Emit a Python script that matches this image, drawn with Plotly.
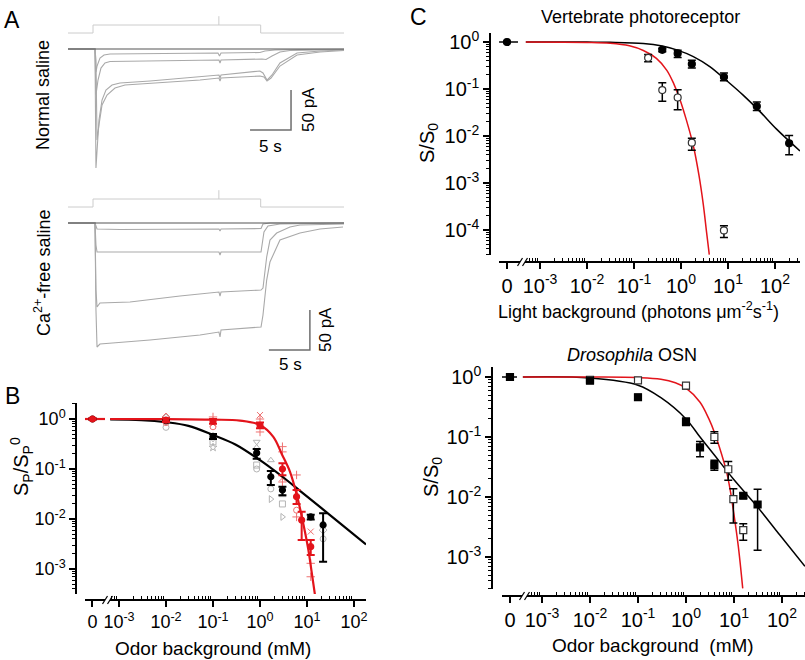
import math
import plotly.graph_objects as go

W, H = 805, 660
FONT = "Liberation Sans, Arial, Helvetica, sans-serif"
RED = "#e3141b"
TRACE_GREY = "#a9a9a9"
LIGHT_GREY = "#b4b4b4"
LIGHT_RED = "#ee7070"

# ================= Panel A : whole-cell currents (time s, current pA) =================
stim_t = [0, 3.05, 3.05, 23.5, 23.5, 33.66]
stim_level = [20, 20, 30, 30, 20, 20]
stim_mark_t = [18.4, 18.4]
stim_mark_level = [30, 41]

# Normal saline
ns_base_t = [0, 33.66]
ns_base_i = [0, 0]
ns1_t = [0, 3.29, 3.41, 3.54, 3.9, 4.39, 5.12, 10.0, 18.29, 18.48, 18.66, 23.41, 24.02, 25.24, 28.29, 33.66]
ns1_i = [0, 0, -28.8, -21.3, -11.3, -7.5, -6.3, -5.6, -5.0, -8.8, -5.0, -4.4, -2.5, -1.3, -0.6, -0.4]
ns2_t = [0, 3.29, 3.41, 3.66, 4.02, 4.51, 5.12, 10.0, 18.41, 18.54, 18.66, 23.66, 24.15, 24.88, 25.85, 27.07, 33.66]
ns2_i = [0, 0, -57.5, -38.8, -23.8, -17.5, -15.6, -15.0, -13.8, -17.5, -13.8, -12.5, -13.1, -8.8, -3.8, -1.9, -0.6]
ns3_t = [0, 3.29, 3.41, 3.54, 3.78, 4.15, 4.63, 5.37, 6.34, 10.0, 16.1, 18.41, 18.54, 18.66, 23.41, 23.78, 24.27,
         24.88, 25.85, 27.93, 30.73, 33.66]
ns3_i = [0, 0, -148.8, -126.3, -88.8, -63.8, -51.3, -45.0, -42.5, -40.0, -35.0, -32.5, -36.3, -32.5, -27.5, -30.0,
         -38.8, -32.5, -17.5, -5.0, -2.5, -1.3]
ns4_t = [0, 3.29, 3.41, 3.54, 3.78, 4.15, 4.76, 5.73, 6.95, 10.0, 16.1, 18.41, 18.54, 18.66, 23.41, 23.9, 24.27,
         24.76, 25.85, 27.93, 30.73, 33.66]
ns4_i = [0, 0, -13.8, -113.8, -95.0, -70.0, -57.5, -48.8, -45.0, -43.1, -38.8, -36.3, -40.0, -36.3, -33.8, -35.0,
         -40.0, -36.3, -21.3, -7.5, -3.8, -1.9]

# Ca2+-free saline
ca_base_t = [0, 33.66]
ca_base_i = [0, 0]
ca1_t = [0, 3.29, 3.54, 6.34, 18.41, 18.54, 18.66, 23.54, 23.78, 24.63, 33.66]
ca1_i = [0, 0, -7.5, -8.1, -7.5, -10.0, -7.5, -6.9, -1.3, 0, 0]
ca2_t = [0, 3.29, 3.41, 3.54, 10.12, 18.41, 18.54, 18.66, 23.54, 23.66, 23.9, 24.39, 25.85, 33.66]
ca2_i = [0, 0, -27.5, -36.3, -36.3, -36.3, -40.0, -36.3, -36.3, -27.5, -11.3, -3.8, -1.3, 0]
ca3_t = [0, 3.29, 3.41, 3.54, 3.9, 7.56, 13.66, 18.41, 18.54, 18.66, 23.54, 23.78, 24.23, 24.63, 25.45, 27.07,
         28.29, 33.66]
ca3_i = [0, 0, -83.8, -105.0, -100.0, -98.8, -91.3, -86.3, -91.3, -86.3, -83.8, -81.3, -42.5, -21.3, -12.5, -5.0,
         -2.5, -1.3]
ca4_t = [0, 3.29, 3.41, 3.54, 3.9, 10.0, 16.1, 18.41, 18.54, 18.66, 23.54, 23.78, 24.23, 24.63, 25.85, 28.29,
         30.73, 33.54]
ca4_i = [0, 0, -108.8, -155.0, -151.3, -146.3, -140.0, -136.3, -142.5, -133.8, -130.0, -115.0, -71.3, -48.8, -21.3,
         -12.5, -7.5, -5.0]

SCALE_T = 5     # s
SCALE_I = 50    # pA

# ================= Panel B : Sp/Sp0 vs odor background (mM) =================
B_red_c = [0, 0.01, 0.1, 1, 3, 6, 7.7, 12]
B_red_s = [1.0, 0.95, 0.9, 0.75, 0.1, 0.028, 0.0095, 0.0028]
B_red_ep = [0.03, 0.08, 0.1, 0.1, 0.03, 0.01, 0.0045, 0.001]
B_red_em = [0.03, 0.08, 0.1, 0.1, 0.025, 0.008, 0.0057, 0.0009]
B_blk_c = [0, 0.01, 0.1, 0.85, 1.7, 3, 12, 22]
B_blk_s = [1.0, 0.93, 0.45, 0.21, 0.07, 0.038, 0.011, 0.0076]
B_blk_ep = [0.03, 0.05, 0.05, 0.04, 0.021, 0.006, 0.0012, 0.0054]
B_blk_em = [0.03, 0.05, 0.05, 0.05, 0.022, 0.008, 0.0012, 0.0062]
# individual recordings
B_ind_blk_c = [0.01, 0.01, 0.1, 0.1, 0.1, 0.85, 0.85, 0.85, 0.85, 1.7, 1.7, 1.7, 3, 3, 3, 22, 22]
B_ind_blk_s = [0.68, 1.05, 0.35, 0.27, 0.4, 0.35, 0.27, 0.12, 0.1, 0.15, 0.04, 0.025, 0.03, 0.02, 0.011, 0.004, 0.006]
B_ind_blk_sym = ["circle-open", "diamond-open", "square-open", "star-open", "triangle-down-open",
                 "triangle-down-open", "triangle-up-open", "square-open", "circle-open", "triangle-up-open",
                 "circle-open", "triangle-right-open", "triangle-up-open", "square-open", "triangle-right-open",
                 "circle-open", "diamond-open"]
B_ind_red_c = [0.01, 0.01, 0.1, 0.1, 0.1, 1, 1, 1, 3, 3, 3, 3, 6, 6, 6, 12, 12, 12]
B_ind_red_s = [0.85, 1.1, 1.1, 0.8, 0.7, 1.2, 1.0, 0.55, 0.28, 0.22, 0.066, 0.055, 0.076, 0.015, 0.011, 0.0056,
               0.0013, 0.0007]
B_ind_red_sym = ["circle-open", "diamond-open", "cross-thin-open", "x-thin-open", "circle-open", "x-thin-open",
                 "cross-thin-open", "cross-thin-open", "cross-thin-open", "cross-thin-open", "x-thin-open",
                 "cross-thin-open", "cross-thin-open", "circle-open", "cross-thin-open", "x-thin-open",
                 "cross-thin-open", "cross-thin-open"]
B_blk_fit_c = [6.5e-4, 0.003, 0.01, 0.03, 0.1, 0.3, 1, 3, 7, 20, 50, 180]
B_blk_fit_s = [0.98, 0.95, 0.865, 0.73, 0.48, 0.31, 0.15, 0.07, 0.037, 0.0167, 0.0083, 0.0031]
B_red_fit_c = [6.5e-4, 0.01, 0.1, 0.375, 1, 1.92, 2.9, 4.35, 6.03, 7.7, 10.7, 12.5, 14.8]
B_red_fit_s = [1.0, 0.995, 0.97, 0.93, 0.76, 0.44, 0.2, 0.088, 0.031, 0.0115, 0.0024, 0.0009, 0.0003]

# ================= Panel C (top) : vertebrate photoreceptor =================
Ct_fill_c = [0, 0.4, 0.85, 1.7, 8.2, 41, 200]
Ct_fill_s = [1.0, 0.68, 0.57, 0.34, 0.18, 0.043, 0.007]
Ct_fill_ep = [0.03, 0.06, 0.1, 0.07, 0.04, 0.01, 0.0032]
Ct_fill_em = [0.03, 0.06, 0.1, 0.06, 0.03, 0.008, 0.003]
Ct_open_c = [0.2, 0.4, 0.85, 1.7, 8.2]
Ct_open_s = [0.46, 0.095, 0.066, 0.0072, 9.8e-5]
Ct_open_ep = [0.08, 0.04, 0.03, 0.0018, 2.5e-5]
Ct_open_em = [0.08, 0.04, 0.03, 0.0022, 2.9e-5]
Ct_blk_fit_c = [5e-4, 0.01, 0.031, 0.158, 0.4, 0.81, 1.83, 4.1, 9.4, 21, 48, 108, 340]
Ct_blk_fit_s = [1.0, 0.995, 0.985, 0.93, 0.82, 0.68, 0.49, 0.3, 0.15, 0.074, 0.033, 0.014, 0.0048]
Ct_red_fit_c = [5e-4, 0.01, 0.031, 0.08, 0.158, 0.3, 0.5, 0.7, 0.95, 1.3, 1.83, 2.4, 2.98, 3.5, 4.0]
Ct_red_fit_s = [1.0, 0.98, 0.94, 0.83, 0.66, 0.45, 0.25, 0.13, 0.06, 0.022, 0.0062, 0.0015, 3.5e-4, 9e-5, 3e-5]

# ================= Panel C (bottom) : Drosophila OSN =================
Cb_fill_c = [0, 0.01, 0.1, 1, 1.96, 3.9, 15.6, 31]
Cb_fill_s = [1.0, 0.87, 0.46, 0.18, 0.067, 0.034, 0.0105, 0.0075]
Cb_fill_ep = [0.04, 0.05, 0.05, 0.025, 0.017, 0.007, 0.001, 0.006]
Cb_fill_em = [0.04, 0.05, 0.05, 0.025, 0.02, 0.006, 0.001, 0.0062]
Cb_open_c = [0.01, 0.1, 1, 3.9, 7.6, 9.7, 15.6]
Cb_open_s = [0.9, 0.88, 0.72, 0.1, 0.029, 0.0092, 0.0028]
Cb_open_ep = [0.04, 0.05, 0.08, 0.022, 0.01, 0.0045, 0.0008]
Cb_open_em = [0.04, 0.05, 0.08, 0.021, 0.01, 0.0055, 0.0009]
Cb_blk_fit_c = [4e-4, 0.01, 0.1, 0.29, 1, 1.96, 3.9, 9.7, 31, 91, 300]
Cb_blk_fit_s = [0.998, 0.96, 0.73, 0.46, 0.2, 0.1, 0.05, 0.02, 0.0068, 0.0023, 0.0007]
Cb_red_fit_c = [4e-4, 0.01, 0.1, 0.3, 0.6, 1, 1.96, 3, 3.9, 5.5, 7.1, 8.5, 9.7, 12.3, 15.2]
Cb_red_fit_s = [1.0, 0.998, 0.98, 0.92, 0.8, 0.65, 0.38, 0.2, 0.12, 0.052, 0.025, 0.012, 0.006, 0.0015, 0.0003]

DEC_LABELS = {-4: "10<sup>-4</sup>", -3: "10<sup>-3</sup>", -2: "10<sup>-2</sup>", -1: "10<sup>-1</sup>",
              0: "10<sup>0</sup>", 1: "10<sup>1</sup>", 2: "10<sup>2</sup>"}

# ---------------- layout geometry (pixels) ----------------
def fx(p):
    return p / W

def fy(p):
    return 1 - p / H

ZERO_B, ZERO_CT, ZERO_CB = 10 ** -3.564, 10 ** -3.702, 10 ** -3.667


def zx(vals, zero):
    return [zero if v == 0 else v for v in vals]


fig = go.Figure()

def add_line(x, y, xa, ya, color, width=1.0, dash=None, shape="linear"):
    fig.add_trace(go.Scatter(x=x, y=y, mode="lines", xaxis=xa, yaxis=ya, hoverinfo="skip",
                             line=dict(color=color, width=width, dash=dash, shape=shape), showlegend=False))

for xa, ya, base, traces in [
    ("x", "y", (ns_base_t, ns_base_i), [(ns1_t, ns1_i), (ns2_t, ns2_i), (ns3_t, ns3_i), (ns4_t, ns4_i)]),
    ("x2", "y2", (ca_base_t, ca_base_i), [(ca1_t, ca1_i), (ca2_t, ca2_i), (ca3_t, ca3_i), (ca4_t, ca4_i)]),
]:
    add_line(stim_t, stim_level, xa, ya, "#cccccc", 1.0)
    add_line(stim_mark_t, stim_mark_level, xa, ya, "#cccccc", 1.0)
    for t, i in traces:
        add_line(t, i, xa, ya, TRACE_GREY, 1.1)
    add_line(base[0], base[1], xa, ya, "#555555", 1.2)

for xa, ya, t_end, i_top in [("x", "y", 27.2, -51.25), ("x2", "y2", 29.5, -108.75)]:
    add_line([t_end - SCALE_T, t_end, t_end], [i_top - SCALE_I, i_top - SCALE_I, i_top], xa, ya, "#6e6e6e", 1.5)


def add_pts(x, y, ep, em, xa, ya, mcolor, mline, symbol, size, ecolor, ethick=1.5, ewidth=4):
    fig.add_trace(go.Scatter(
        x=x, y=y, mode="markers", xaxis=xa, yaxis=ya, hoverinfo="skip", showlegend=False,
        marker=dict(color=mcolor, symbol=symbol, size=size, line=dict(color=mline, width=1.2)),
        error_y=dict(type="data", array=ep, arrayminus=em, color=ecolor, thickness=ethick, width=ewidth, visible=True)))


def add_ind(x, y, syms, xa, ya, color):
    fig.add_trace(go.Scatter(x=x, y=y, mode="markers", xaxis=xa, yaxis=ya, hoverinfo="skip", showlegend=False,
                             marker=dict(symbol=syms, size=6, color=color, line=dict(color=color, width=1))))

# ---------- panel B ----------
add_ind(B_ind_blk_c, B_ind_blk_s, B_ind_blk_sym, "x3", "y3", LIGHT_GREY)
add_ind(B_ind_red_c, B_ind_red_s, B_ind_red_sym, "x3", "y3", LIGHT_RED)
add_line(B_blk_fit_c, B_blk_fit_s, "x3", "y3", "black", 2.2, shape="spline")
add_line(B_red_fit_c, B_red_fit_s, "x3", "y3", RED, 2.2, shape="spline")
add_line([10 ** -3.723, 10 ** -3.298], [1, 1], "x3", "y3", RED, 2.2)
add_pts(zx(B_blk_c, ZERO_B), B_blk_s, B_blk_ep, B_blk_em, "x3", "y3", "black", "black", "circle", 6, "black", 2, 4)
add_pts(zx(B_red_c, ZERO_B), B_red_s, B_red_ep, B_red_em, "x3", "y3", RED, RED, "circle", 6, RED, 2, 4)

# ---------- panel C top ----------
add_line(Ct_blk_fit_c, Ct_blk_fit_s, "x4", "y4", "black", 1.5, shape="spline")
add_line(Ct_red_fit_c, Ct_red_fit_s, "x4", "y4", RED, 1.5, shape="spline")
add_line([10 ** -3.87, 10 ** -3.468], [1, 1], "x4", "y4", "black", 1.5)
add_pts(zx(Ct_open_c, ZERO_CT), Ct_open_s, Ct_open_ep, Ct_open_em, "x4", "y4", "white", "#333333", "circle", 7, "black")
add_pts(zx(Ct_fill_c, ZERO_CT), Ct_fill_s, Ct_fill_ep, Ct_fill_em, "x4", "y4", "black", "black", "circle", 7, "black")

# ---------- panel C bottom ----------
add_line(Cb_blk_fit_c, Cb_blk_fit_s, "x5", "y5", "black", 1.5, shape="spline")
add_line(Cb_red_fit_c, Cb_red_fit_s, "x5", "y5", RED, 1.5, shape="spline")
add_line([10 ** -3.833, 10 ** -3.521], [1, 1], "x5", "y5", "black", 1.5)
add_pts(zx(Cb_open_c, ZERO_CB), Cb_open_s, Cb_open_ep, Cb_open_em, "x5", "y5", "white", "#333333", "square", 7, "black")
add_pts(zx(Cb_fill_c, ZERO_CB), Cb_fill_s, Cb_fill_ep, Cb_fill_em, "x5", "y5", "black", "black", "square", 7, "black")

# ---------------- axes ----------------
def hidden_axis(domain, rng, anchor):
    return dict(domain=domain, range=rng, visible=False, anchor=anchor, fixedrange=True)


def minor_vals(lo, hi):
    out = []
    for e in range(-6, 4):
        for m in range(2, 10):
            v = m * 10 ** e
            if lo <= math.log10(v) <= hi:
                out.append(v)
    return out


def log_axis(domain, rng, position, tickvals, ticktext, minor_lo, size, minor_ticks):
    return dict(type="log", domain=domain, range=rng, anchor="free", position=position,
                showline=True, linecolor="black", linewidth=1.5, showgrid=False, zeroline=False,
                tickmode="array", tickvals=tickvals, ticktext=ticktext,
                ticks="outside", ticklen=6, tickwidth=1.5, tickcolor="black",
                tickfont=dict(family=FONT, size=size, color="black"),
                minor=dict(tickmode="array", tickvals=minor_vals(minor_lo, rng[1]), ticks=minor_ticks,
                           ticklen=3, tickwidth=1, tickcolor="black", showgrid=False),
                fixedrange=True)


def x_ticks(zero, decs):
    return [zero] + [10 ** d for d in decs], ["0"] + [DEC_LABELS[d] for d in decs]


def y_ticks(decs):
    return [10 ** d for d in decs], [DEC_LABELS[d] for d in decs]


bx_tv, bx_tt = x_ticks(ZERO_B, [-3, -2, -1, 0, 1, 2])
ctx_tv, ctx_tt = x_ticks(ZERO_CT, [-3, -2, -1, 0, 1, 2])
cbx_tv, cbx_tt = x_ticks(ZERO_CB, [-3, -2, -1, 0, 1, 2])
by_tv, by_tt = y_ticks([0, -1, -2, -3])
cty_tv, cty_tt = y_ticks([0, -1, -2, -3, -4])
cby_tv, cby_tt = y_ticks([0, -1, -2, -3])

fig.update_layout(
    width=W, height=H, margin=dict(l=0, r=0, t=0, b=0, autoexpand=False),
    paper_bgcolor="white", plot_bgcolor="white", showlegend=False,
    font=dict(family=FONT, color="black"),
    xaxis=hidden_axis([fx(68), fx(344)], [0, 33.66], "y"),
    yaxis=hidden_axis([fy(180), fy(10)], [-163.75, 48.75], "x"),
    xaxis2=hidden_axis([fx(68), fx(344)], [0, 33.66], "y2"),
    yaxis2=hidden_axis([fy(360), fy(185)], [-171.25, 47.5], "x2"),
    xaxis3=log_axis([fx(85), fx(366)], [-3.723, 2.255], fy(600), bx_tv, bx_tt, -3.16, 18, "inside"),
    yaxis3=log_axis([fy(594), fy(403)], [-3.5, 0.32], fx(76), by_tv, by_tt, -3.5, 18, "outside"),
    xaxis4=log_axis([fx(499), fx(800)], [-3.872, 2.532], fy(262), ctx_tv, ctx_tt, -3.23, 20, "inside"),
    yaxis4=log_axis([fy(255), fy(33)], [-4.532, 0.1915], fx(490), cty_tv, cty_tt, -4.532, 20, "outside"),
    xaxis5=log_axis([fx(502), fx(805)], [-3.833, 2.479], fy(596), cbx_tv, cbx_tt, -3.23, 20, "inside"),
    yaxis5=log_axis([fy(589), fy(367)], [-3.533, 0.1667], fx(492), cby_tv, cby_tt, -3.533, 20, "outside"),
)

def ann(text, xp, yp, size, angle=0):
    fig.add_annotation(text=text, x=fx(xp), y=fy(yp), xref="paper", yref="paper", showarrow=False,
                       xanchor="center", yanchor="middle", textangle=angle,
                       font=dict(family=FONT, size=size, color="black"))

ann("A", 12, 20, 23)
ann("B", 12, 396, 23)
ann("C", 419, 17, 23)
ann("Normal saline", 43, 95, 18, -90)
ann("Ca<sup>2+</sup>-free saline", 43, 273, 18, -90)
ann("5 s", 270, 147, 17)
ann("50 pA", 309, 110, 17, -90)
ann("5 s", 290, 365, 17)
ann("50 pA", 325, 330, 17, -90)
ann("S<sub>P</sub>/S<sub>P</sub><sup>0</sup>", 22, 467, 20, -90)
ann("Odor background (mM)", 213, 648, 19)
ann("Vertebrate photoreceptor", 640, 17, 18)
ann("S/S<sub>0</sub>", 428, 143, 20, -90)
ann("Light background (photons \u03bcm<sup>-2</sup>s<sup>-1</sup>)", 638, 310, 18)
ann("<i>Drosophila</i> OSN", 632, 355, 18)
ann("S/S<sub>0</sub>", 432, 477, 20, -90)
ann("Odor background  (mM)", 653, 645, 19)

for xb, yb in [(108, 600), (523, 262), (525, 596)]:
    fig.add_shape(type="rect", xref="paper", yref="paper", x0=fx(xb - 3), x1=fx(xb + 2), y0=fy(yb + 2),
                  y1=fy(yb - 2), fillcolor="white", line=dict(width=0), layer="above")
    for off in (-3, 2):
        fig.add_shape(type="line", xref="paper", yref="paper", x0=fx(xb + off - 2.5), y0=fy(yb + 4),
                      x1=fx(xb + off + 2.5), y1=fy(yb - 4), line=dict(color="black", width=1.2), layer="above")

fig.write_html("out.html", config={"displayModeBar": False},
               post_script="document.body.style.margin='0';document.body.style.overflow='hidden';")
